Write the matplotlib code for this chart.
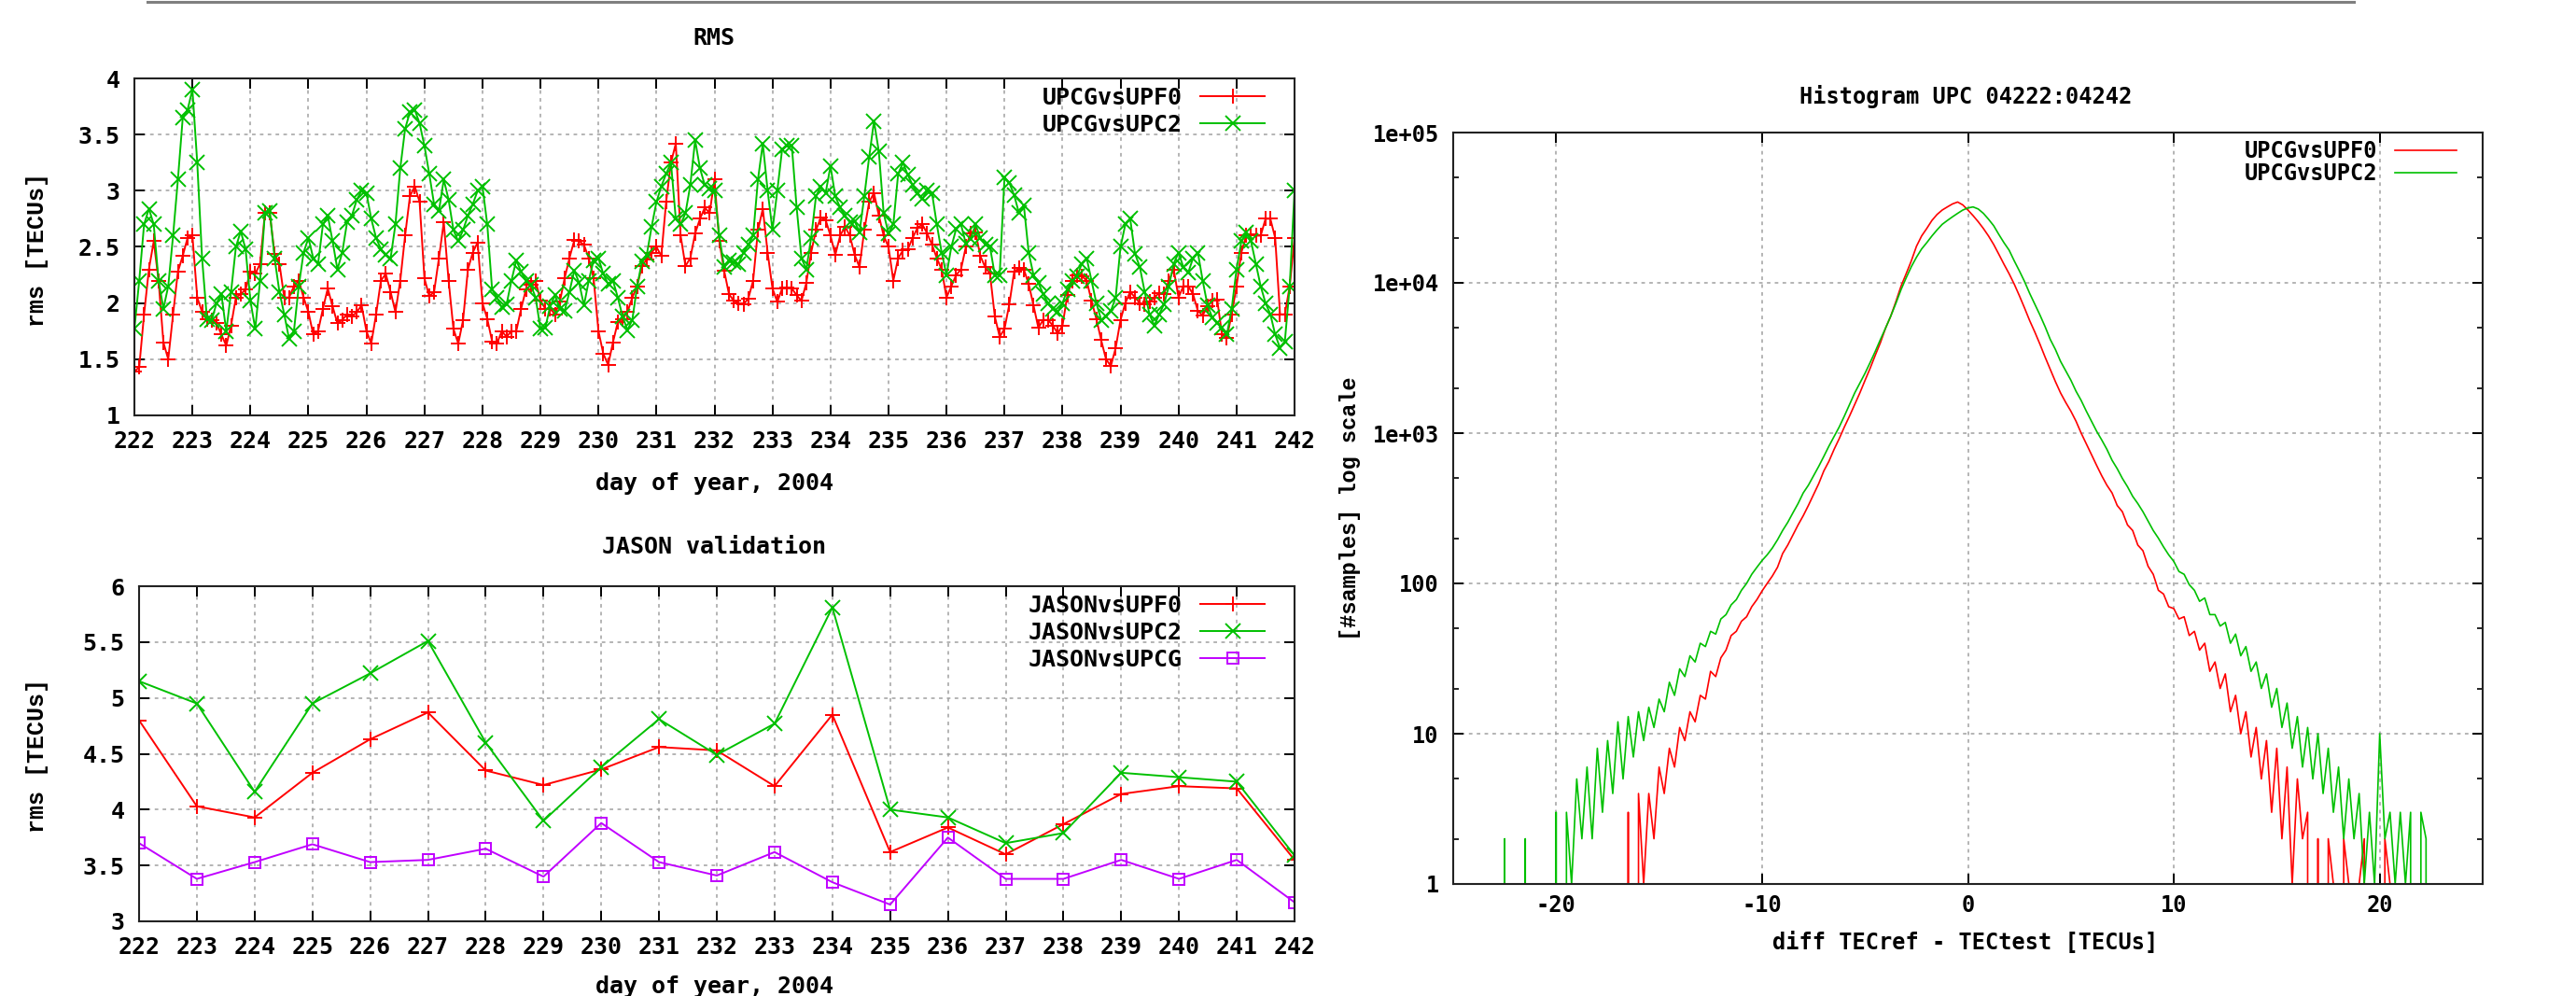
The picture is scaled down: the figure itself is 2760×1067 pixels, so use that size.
import numpy as np
import matplotlib
matplotlib.use('Agg')
import matplotlib.pyplot as plt
from matplotlib.lines import Line2D
from matplotlib.ticker import FixedLocator, NullFormatter, LogLocator

# ---------------- data ----------------
days = list(range(222, 243))
rms_time = np.linspace(222, 242, 241)  # 2-hourly samples, day of year 2004

rms_upf0 = [
    1.39, 1.43, 1.9, 2.3, 2.55, 2.2, 1.65, 1.5, 1.9, 2.28, 2.42, 2.58,
    2.6, 2.05, 1.92, 1.86, 1.85, 1.82, 1.72, 1.62, 1.8, 2.05, 2.08, 2.12,
    2.28, 2.26, 2.35, 2.8, 2.8, 2.44, 2.35, 2.05, 2.05, 2.15, 2.2, 2.05,
    1.92, 1.72, 1.75, 1.95, 2.13, 1.97, 1.82, 1.85, 1.9, 1.88, 1.92, 1.98,
    1.75, 1.64, 1.9, 2.2, 2.26, 2.1, 1.92, 2.2, 2.6, 2.95, 3.04, 2.9,
    2.22, 2.06, 2.1, 2.4, 2.72, 2.2, 1.77, 1.64, 1.85, 2.3, 2.45, 2.54,
    2.0, 1.86, 1.66, 1.64, 1.75, 1.7, 1.75, 1.75, 1.95, 2.12, 2.16, 2.2,
    2.02, 1.95, 1.95, 1.9, 2.01, 2.22, 2.4, 2.56, 2.55, 2.52, 2.4, 2.22,
    1.75, 1.55, 1.45, 1.65, 1.83, 1.86, 1.92, 2.05, 2.15, 2.33, 2.39, 2.45,
    2.5, 2.42, 2.9, 3.25, 3.42, 2.6, 2.33, 2.4, 2.62, 2.75, 2.85, 2.8,
    3.1, 2.55, 2.29, 2.08, 2.02, 2.0, 1.99, 2.04, 2.2, 2.65, 2.84, 2.45,
    2.13, 2.01, 2.13, 2.14, 2.13, 2.07, 2.02, 2.18, 2.45, 2.65, 2.76, 2.74,
    2.6, 2.43, 2.6, 2.68, 2.6, 2.43, 2.32, 2.65, 2.9, 2.98, 2.78, 2.6,
    2.5, 2.2, 2.4, 2.47, 2.48, 2.58, 2.67, 2.7, 2.62, 2.52, 2.4, 2.3,
    2.05, 2.15, 2.25, 2.3, 2.5, 2.62, 2.63, 2.42, 2.32, 2.26, 1.88, 1.7,
    1.77, 1.99, 2.28, 2.31, 2.3, 2.17, 1.98, 1.78, 1.85, 1.85, 1.8, 1.73,
    1.8, 2.07, 2.2, 2.25, 2.24, 2.2, 2.02, 1.86, 1.67, 1.5, 1.44, 1.6,
    1.85, 2.0, 2.1, 2.05, 2.0, 1.99, 2.01, 2.05, 2.09, 2.08, 2.2, 2.3,
    2.05, 2.15, 2.15, 2.08, 1.93, 1.89, 1.97, 2.02, 2.03, 1.72, 1.69, 1.9,
    2.15, 2.45, 2.6, 2.61, 2.6, 2.6, 2.75, 2.75, 2.58, 1.9, 1.9, 2.15,
    2.58,
]

rms_upc2 = [
    1.77, 2.2, 2.7, 2.84, 2.7, 2.2, 1.95, 2.15, 2.6, 3.1, 3.65, 3.72,
    3.9, 3.25, 2.4, 1.86, 1.85, 2.0, 2.08, 1.75, 2.1, 2.5, 2.64, 2.48,
    2.02, 1.77, 2.2, 2.8, 2.82, 2.4, 2.1, 1.9, 1.68, 1.75, 2.15, 2.45,
    2.58, 2.4, 2.35, 2.7, 2.78, 2.55, 2.3, 2.45, 2.72, 2.78, 2.92, 3.0,
    2.98, 2.75, 2.58, 2.48, 2.43, 2.4, 2.7, 3.2, 3.55, 3.7, 3.72, 3.6,
    3.4, 3.15, 2.88, 2.82, 3.1, 2.92, 2.65, 2.55, 2.65, 2.78, 2.88, 3.0,
    3.04, 2.7, 2.12, 2.05, 1.96, 1.99, 2.2, 2.38, 2.28, 2.2, 2.16, 2.05,
    1.77, 1.78, 1.97, 2.07, 1.95, 1.93, 2.1, 2.29, 2.18, 1.98, 2.2, 2.38,
    2.4, 2.26, 2.17, 2.2, 2.05, 1.88, 1.76, 1.85, 2.15, 2.37, 2.43, 2.68,
    2.9, 3.04, 3.15, 3.25, 2.75, 2.7, 2.8, 3.05, 3.45, 3.2, 3.05, 3.02,
    3.0, 2.6, 2.32, 2.38, 2.36, 2.35, 2.45, 2.52, 2.6, 3.1, 3.42, 3.0,
    2.65, 3.0, 3.37, 3.4, 3.4, 2.85, 2.4, 2.3, 2.58, 2.95, 3.04, 2.98,
    3.22, 2.95, 2.85, 2.78, 2.72, 2.73, 2.63, 2.95, 3.3, 3.62, 3.35, 2.8,
    2.62, 2.7, 3.15, 3.25, 3.14, 3.05, 2.98, 2.93, 3.0, 2.98, 2.7, 2.45,
    2.25, 2.5, 2.66, 2.7, 2.53, 2.57, 2.7, 2.58, 2.52, 2.5, 2.25, 2.25,
    3.12, 3.07, 2.96, 2.8, 2.87, 2.45, 2.25, 2.18, 2.08, 2.0, 1.95, 1.92,
    2.0, 2.12, 2.2, 2.24, 2.35, 2.4, 2.2, 2.0, 1.85, 1.88, 1.93, 2.05,
    2.5, 2.7, 2.75, 2.44, 2.32, 2.1, 1.9, 1.8, 1.9, 1.99, 2.15, 2.35,
    2.45, 2.32, 2.27, 2.4, 2.45, 2.2, 1.98, 1.87, 1.82, 1.78, 1.72, 1.95,
    2.3, 2.55, 2.63, 2.55, 2.35, 2.15, 2.0, 1.9, 1.72, 1.6, 1.66, 2.15,
    3.0,
]

jason_upf0 = [4.80, 4.03, 3.93, 4.33, 4.63, 4.87, 4.35, 4.22, 4.36, 4.56, 4.53,
              4.21, 4.85, 3.62, 3.84, 3.60, 3.87, 4.14, 4.21, 4.19, 3.55]
jason_upc2 = [5.15, 4.95, 4.16, 4.95, 5.22, 5.51, 4.60, 3.90, 4.38, 4.81, 4.49,
              4.77, 5.81, 4.00, 3.93, 3.70, 3.79, 4.33, 4.29, 4.25, 3.59]
jason_upcg = [3.70, 3.38, 3.53, 3.69, 3.53, 3.55, 3.65, 3.40, 3.88, 3.53, 3.41,
              3.62, 3.35, 3.15, 3.75, 3.38, 3.38, 3.55, 3.38, 3.55, 3.17]

hist_diff = np.arange(-23, 22.75, 0.25)  # bin centres [TECU]
hist_upf0 = [
    0, 0, 0, 0, 0, 0, 0, 0,
    0, 0, 0, 0, 0, 0, 0, 0,
    0, 0, 0, 0, 0, 0, 0, 0,
    1, 0, 3, 0, 4, 1, 4, 2,
    6, 4, 8, 6, 11, 9, 14, 12,
    18, 17, 26, 24, 32, 36, 45, 48,
    56, 60, 70, 78, 89, 100, 112, 128,
    158, 180, 210, 245, 282, 330, 390, 460,
    560, 650, 780, 920, 1100, 1300, 1550, 1850,
    2240, 2700, 3300, 4000, 5000, 6000, 7500, 9500,
    11500, 14000, 17500, 20500, 23000, 26000, 28500, 30500,
    32000, 33500, 34500, 33000, 30500, 28000, 25500, 23000,
    20500, 18000, 15500, 13300, 11500, 9800, 8200, 6800,
    5600, 4700, 3900, 3200, 2650, 2200, 1850, 1600,
    1400, 1200, 1000, 850, 720, 610, 520, 450,
    400, 330, 300, 245, 225, 180, 165, 130,
    115, 90, 85, 70, 68, 58, 60, 45,
    48, 36, 40, 26, 30, 20, 25, 14,
    18, 10, 14, 7, 11, 5, 9, 3,
    8, 2, 6, 1, 5, 2, 3, 0,
    2, 0, 2, 1, 0, 2, 1, 0,
    1, 2, 0, 1, 0, 2, 1, 1,
    0, 0, 0, 0, 0, 0, 0,
]
hist_upc2 = [
    0, 0, 2, 0, 0, 0, 2, 0,
    0, 0, 0, 0, 3, 0, 3, 1,
    5, 2, 6, 2, 8, 3, 9, 4,
    12, 5, 13, 7, 14, 9, 15, 11,
    17, 14, 22, 18, 27, 24, 33, 30,
    40, 38, 48, 46, 58, 62, 72, 78,
    90, 100, 115, 128, 142, 155, 172, 195,
    225, 255, 295, 340, 400, 450, 520, 600,
    700, 820, 950, 1100, 1300, 1550, 1850, 2150,
    2500, 2950, 3500, 4200, 5000, 6000, 7300, 9000,
    10800, 12800, 14800, 16800, 18500, 20500, 22500, 24500,
    26000, 27500, 29000, 30500, 31500, 32000, 31000, 29000,
    26500, 24000, 21000, 18500, 16500, 14000, 12000, 10200,
    8500, 7200, 6100, 5100, 4200, 3600, 3000, 2600,
    2250, 1900, 1650, 1400, 1200, 1030, 900, 780,
    660, 580, 500, 440, 380, 340, 300, 260,
    225, 200, 175, 155, 140, 120, 115, 98,
    90, 76, 80, 62, 62, 52, 55, 40,
    46, 33, 38, 26, 30, 20, 25, 15,
    20, 11, 16, 8, 13, 6, 11, 5,
    10, 4, 8, 3, 6, 2, 5, 2,
    4, 1, 3, 1, 10, 2, 3, 1,
    3, 1, 3, 0, 3, 2, 0,
]

rms_yticks = [1, 1.5, 2, 2.5, 3, 3.5, 4]
rms_ylabels = ['1', '1.5', '2', '2.5', '3', '3.5', '4']
jason_yticks = [3, 3.5, 4, 4.5, 5, 5.5, 6]
jason_ylabels = ['3', '3.5', '4', '4.5', '5', '5.5', '6']
hist_xticks = [-20, -10, 0, 10, 20]
hist_yticks = [1, 10, 100, 1e3, 1e4, 1e5]
hist_ylabels = ['1', '10', '100', '1e+03', '1e+04', '1e+05']

# ---------------- style ----------------
RED = '#ff0000'
GREEN = '#00c000'
PURPLE = '#c000ff'
GRIDC = '#a0a0a0'
MONO = ['DejaVu Sans Mono', 'DejaVu Sans']
COURIER = ['Liberation Mono', 'DejaVu Sans Mono']

plt.rcParams['font.family'] = MONO
plt.rcParams['font.weight'] = 'bold'
plt.rcParams['axes.unicode_minus'] = False

W, H = 2760, 1067
fig = plt.figure(figsize=(W / 100, H / 100), dpi=100)


def box(l, t, r, b):
    return [l / W, 1 - b / H, (r - l) / W, (b - t) / H]


def style(ax, size, xpad, ypad):
    ax.set_axisbelow(True)
    ax.grid(True, color=GRIDC, linestyle=(0, (2.5, 3)), linewidth=1.1)
    ax.tick_params(which='major', direction='in', length=8, width=1.4,
                   top=True, right=True, labelsize=size)
    ax.tick_params(which='minor', direction='in', length=4, width=1.2,
                   top=True, right=True)
    ax.tick_params(axis='x', pad=xpad)
    ax.tick_params(axis='y', pad=ypad)
    for s in ax.spines.values():
        s.set_linewidth(1.5)
        s.set_color('#222222')


def key(ax, right, top, size):
    ax.legend(loc='upper right', bbox_to_anchor=(right / W, 1 - top / H),
              bbox_transform=fig.transFigure, frameon=False, markerfirst=False,
              fontsize=size, borderpad=0, borderaxespad=0, labelspacing=0.2,
              handlelength=2.75, handletextpad=0.8, numpoints=1)


# ---- RMS panel ----
ax1 = fig.add_axes(box(144, 84, 1387, 445))
ax1.plot(rms_time, rms_upf0, color=RED, lw=1.4, marker='+', ms=12, mew=1.4,
         label='UPCGvsUPF0')
ax1.plot(rms_time, rms_upc2, color=GREEN, lw=1.4, marker='x', ms=11, mew=1.4,
         label='UPCGvsUPC2')
ax1.set_xlim(222, 242)
ax1.set_ylim(1, 4)
ax1.set_xticks(days)
ax1.yaxis.set_major_locator(FixedLocator(rms_yticks))
ax1.set_yticklabels(rms_ylabels)
style(ax1, 18, 11.5, 11)
key(ax1, 1355, 93, 18)

# ---- JASON panel ----
ax2 = fig.add_axes(box(149, 628, 1387, 987))
ax2.plot(days, jason_upf0, color=RED, lw=1.4, marker='+', ms=12, mew=1.4,
         label='JASONvsUPF0')
ax2.plot(days, jason_upc2, color=GREEN, lw=1.4, marker='x', ms=11, mew=1.4,
         label='JASONvsUPC2')
ax2.plot(days, jason_upcg, color=PURPLE, lw=1.4, marker='s', ms=9, mew=1.4,
         mfc='none', label='JASONvsUPCG')
ax2.set_xlim(222, 242)
ax2.set_ylim(3, 6)
ax2.set_xticks(days)
ax2.yaxis.set_major_locator(FixedLocator(jason_yticks))
ax2.set_yticklabels(jason_ylabels)
style(ax2, 18, 11.5, 11)
key(ax2, 1355, 637, 18)

# ---- histogram panel ----
ax3 = fig.add_axes(box(1557, 142, 2660, 947))
ax3.set_yscale('log', nonpositive='clip')
ax3.plot(hist_diff, hist_upf0, color=RED, lw=1.2, label='UPCGvsUPF0')
ax3.plot(hist_diff, hist_upc2, color=GREEN, lw=1.2, label='UPCGvsUPC2')
ax3.set_xlim(-25, 25)
ax3.set_ylim(1, 1e5)
ax3.set_xticks(hist_xticks)
ax3.yaxis.set_major_locator(FixedLocator(hist_yticks))
ax3.set_yticklabels(hist_ylabels)
ax3.yaxis.set_minor_locator(LogLocator(base=10, subs=(2, 5)))
ax3.yaxis.set_minor_formatter(NullFormatter())
style(ax3, 17, 8, 11)
ax3.grid(False, which='minor')
ax3.legend(loc='upper right', bbox_to_anchor=(2632 / W, 1 - 150 / H),
           bbox_transform=fig.transFigure, frameon=False, markerfirst=False,
           fontsize=17, borderpad=0, borderaxespad=0, labelspacing=0.0,
           handlelength=2.8, handletextpad=0.8)

# ---- titles and axis labels ----
fig.text(765 / W, 1 - 41 / H, 'RMS', ha='center', va='center', fontsize=18)
fig.text(765 / W, 1 - 518 / H, 'day of year, 2004', ha='center', va='center',
         fontsize=18)
fig.text(40 / W, 1 - 268 / H, 'rms [TECUs]', rotation=90, ha='center',
         va='center', fontsize=18, family=COURIER)

fig.text(765 / W, 1 - 586 / H, 'JASON validation', ha='center', va='center',
         fontsize=18)
fig.text(765 / W, 1 - 1057 / H, 'day of year, 2004', ha='center', va='center',
         fontsize=18)
fig.text(40 / W, 1 - 809 / H, 'rms [TECUs]', rotation=90, ha='center',
         va='center', fontsize=18, family=COURIER)

fig.text(2106 / W, 1 - 103 / H, 'Histogram UPC 04222:04242', ha='center',
         va='center', fontsize=17)
fig.text(2106 / W, 1 - 1010 / H, 'diff TECref - TECtest [TECUs]', ha='center',
         va='center', fontsize=17)
fig.text(1446 / W, 1 - 545 / H, '[#samples] log scale', rotation=90,
         ha='center', va='center', fontsize=17, family=COURIER)

# thin gray rule along the top edge
fig.add_artist(Line2D([158 / W, 2522 / W], [1 - 1.5 / H, 1 - 1.5 / H],
                      color='#808080', lw=2.2))

fig.savefig('out.png', dpi=100, facecolor='white')
